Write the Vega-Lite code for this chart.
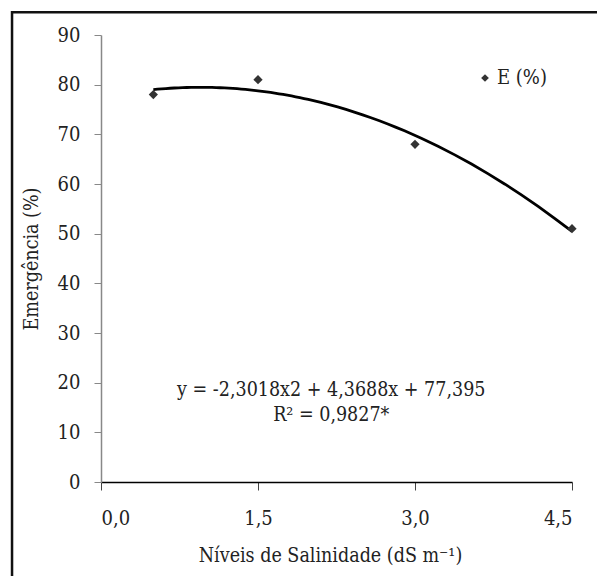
{
  "$schema": "https://vega.github.io/schema/vega-lite/v6.json",
  "width": 471,
  "height": 447,
  "autosize": "none",
  "padding": {"left": 101, "top": 35, "right": 25, "bottom": 94},
  "background": "white",
  "config": {
    "view": {"stroke": null},
    "font": "DejaVu Serif Condensed",
    "axis": {"grid": false, "labelFont": "DejaVu Serif Condensed", "titleFont": "DejaVu Serif Condensed", "labelFontSize": 20, "titleFontSize": 19.5, "labelColor": "#222", "titleColor": "#222", "titleFontWeight": "normal"}
  },
  "data": {"values": [
    {"nivel": 0.5, "E": 78},
    {"nivel": 1.5, "E": 81},
    {"nivel": 3.0, "E": 68},
    {"nivel": 4.5, "E": 51}
  ]},
  "layer": [
    {
      "data": {"values": [{"frame": "border"}]},
      "mark": {"type": "rect", "fill": null, "stroke": "#111", "strokeWidth": 2.5, "clip": false},
      "encoding": {
        "x": {"datum": -0.85, "type": "quantitative"},
        "x2": {"datum": 5.2},
        "y": {"datum": 94.6, "type": "quantitative"},
        "y2": {"datum": -40}
      }
    },
    {
      "transform": [{"regression": "E", "on": "nivel", "method": "poly", "order": 2, "extent": [0.5, 4.5]}],
      "mark": {"type": "line", "color": "#000", "strokeWidth": 2.8},
      "encoding": {
        "x": {"field": "nivel", "type": "quantitative"},
        "y": {"field": "E", "type": "quantitative"}
      }
    },
    {
      "mark": {"type": "point", "shape": "diamond", "filled": true, "color": "#333", "size": 85, "opacity": 1},
      "encoding": {
        "x": {
          "field": "nivel", "type": "quantitative",
          "scale": {"domain": [0, 4.5], "nice": false, "zero": false},
          "axis": {"values": [0, 1.5, 3.0, 4.5], "labelExpr": "replace(format(datum.value, '.1f'), '.', ',')", "title": "Níveis de Salinidade (dS m⁻¹)", "titleX": 229, "domainColor": "#000", "domainWidth": 1.5, "tickColor": "#444", "tickSize": 8, "labelPadding": 18, "titlePadding": 18}
        },
        "y": {
          "field": "E", "type": "quantitative",
          "scale": {"domain": [0, 90], "nice": false},
          "axis": {"values": [0, 10, 20, 30, 40, 50, 60, 70, 80, 90], "title": "Emergência (%)", "domainColor": "#888", "domainWidth": 1.5, "tickColor": "#888", "tickSize": 7, "labelPadding": 14, "titlePadding": 16}
        },
        "shape": {"datum": "E (%)", "type": "nominal", "scale": {"range": ["diamond"]},
          "legend": {"title": null, "orient": "none", "legendX": 374, "legendY": 33, "labelFont": "DejaVu Serif Condensed", "labelFontSize": 20, "labelColor": "#222", "symbolFillColor": "#333", "symbolStrokeColor": "#333", "symbolSize": 60, "labelOffset": 2}
        }
      }
    },
    {
      "data": {"values": [{"label": "y = -2,3018x2 + 4,3688x + 77,395"}]},
      "mark": {"type": "text", "font": "DejaVu Serif Condensed", "fontSize": 19.5, "fontWeight": "normal", "fill": "#222", "align": "center", "baseline": "middle"},
      "encoding": {
        "x": {"datum": 2.2, "type": "quantitative"},
        "y": {"datum": 18.5, "type": "quantitative"},
        "text": {"field": "label"}
      }
    },
    {
      "data": {"values": [{"label": "R² = 0,9827*"}]},
      "mark": {"type": "text", "font": "DejaVu Serif Condensed", "fontSize": 19.5, "fontWeight": "normal", "fill": "#222", "align": "center", "baseline": "middle"},
      "encoding": {
        "x": {"datum": 2.2, "type": "quantitative"},
        "y": {"datum": 13.5, "type": "quantitative"},
        "text": {"field": "label"}
      }
    }
  ]
}
